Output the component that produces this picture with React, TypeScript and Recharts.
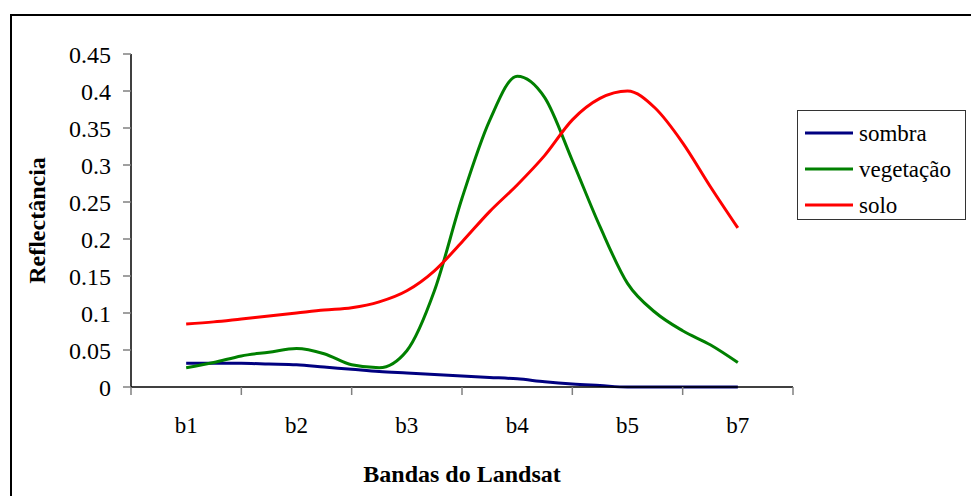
import React from 'react';
import { LineChart, Line, XAxis, YAxis, Legend } from 'recharts';

const categories = ['b1', 'b2', 'b3', 'b4', 'b5', 'b7'];
// positions along the band axis (band units; 0.5 = centre of b1)
const positions = [0.5, 0.75, 1, 1.25, 1.5, 1.75, 2, 2.25, 2.5, 2.75, 3, 3.25, 3.5, 3.75, 4, 4.25, 4.5, 4.75, 5, 5.25, 5.5];
const sombra = [0.032, 0.032, 0.032, 0.031, 0.030, 0.027, 0.024, 0.021, 0.019, 0.017, 0.015, 0.013, 0.011, 0.007, 0.004, 0.002, 0.0, 0.0, 0.0, 0.0, 0.0];
const vegetacao = [0.026, 0.033, 0.042, 0.047, 0.052, 0.045, 0.030, 0.026, 0.049, 0.130, 0.255, 0.360, 0.420, 0.391, 0.306, 0.217, 0.140, 0.101, 0.076, 0.057, 0.033];
const solo = [0.085, 0.088, 0.092, 0.096, 0.100, 0.104, 0.107, 0.115, 0.130, 0.157, 0.196, 0.237, 0.273, 0.313, 0.361, 0.390, 0.400, 0.377, 0.330, 0.271, 0.215];
const yTicks = [0, 0.05, 0.1, 0.15, 0.2, 0.25, 0.3, 0.35, 0.4, 0.45];
const boundaryTicks = [0, 1, 2, 3, 4, 5, 6];
const labelTicks = [0.5, 1.5, 2.5, 3.5, 4.5, 5.5];
const seriesKeys = ['sombra', 'vegetacao', 'solo'];
const seriesNames = ['sombra', 'vegetação', 'solo'];
const seriesColors = ['#000080', '#008000', '#ff0000'];

const data = positions.map((p, i) => ({
  pos: p,
  sombra: sombra[i],
  vegetacao: vegetacao[i],
  solo: solo[i],
}));

const FONT = '"Liberation Serif", "Times New Roman", serif';

const renderLegend = () => {
  return (
    <div
      style={{
        boxSizing: 'border-box',
        width: 169,
        height: 110,
        border: '1px solid #333',
        background: '#fff',
        padding: '4px 0 0 7px',
        fontFamily: FONT,
        fontSize: 23,
        color: '#000',
      }}
    >
      {seriesNames.map((name, i) => (
        <div key={name} style={{ display: 'flex', alignItems: 'center', height: 36 }}>
          <svg width={48} height={6} style={{ display: 'block' }}>
            <line x1={0} y1={3} x2={48} y2={3} stroke={seriesColors[i]} strokeWidth={3} />
          </svg>
          <span style={{ marginLeft: 6, lineHeight: '23px' }}>{name}</span>
        </div>
      ))}
    </div>
  );
};

const YTitle = (props: any) => {
  const vb = props.viewBox || { x: 0, y: 0, width: 0, height: 0 };
  const x = vb.x + 45;
  const y = vb.y + vb.height / 2;
  return (
    <text
      x={x}
      y={y}
      transform={`rotate(-90 ${x} ${y})`}
      textAnchor="middle"
      fontFamily={FONT}
      fontWeight="bold"
      fontSize={24}
      fill="#000"
    >
      Reflectância
    </text>
  );
};

const EmptyTick = () => <g />;

export default function App() {
  return (
    <div style={{ position: 'absolute', left: 0, top: 0, width: 971, height: 496, overflow: 'hidden', background: '#fff' }}>
      <div
        style={{
          position: 'absolute',
          left: 10,
          top: 14,
          width: 980,
          height: 500,
          borderTop: '2px solid #000',
          borderLeft: '2px solid #000',
        }}
      />
      <div style={{ position: 'absolute', left: 0, top: 0 }}>
        <LineChart width={971} height={496} data={data} margin={{ top: 54, right: 178, bottom: 0, left: 0 }}>
          <XAxis
            xAxisId="b_labels"
            dataKey="pos"
            type="number"
            domain={[0, 6]}
            ticks={labelTicks}
            tickFormatter={(v: number) => categories[Math.floor(v)]}
            tick={{ fontFamily: FONT, fontSize: 23, fill: '#000' }}
            tickLine={false}
            axisLine={false}
            tickSize={0}
            tickMargin={29}
            height={108}
            allowDataOverflow
            label={{
              value: 'Bandas do Landsat',
              position: 'insideBottom',
              offset: 14,
              fontFamily: FONT,
              fontWeight: 'bold',
              fontSize: 24,
              fill: '#000',
            }}
          />
          <XAxis
            xAxisId="a_marks"
            dataKey="pos"
            type="number"
            domain={[0, 6]}
            ticks={boundaryTicks}
            tick={<EmptyTick />}
            tickSize={8}
            tickLine={{ stroke: '#808080', strokeWidth: 1.5 }}
            axisLine={{ stroke: '#000', strokeWidth: 1.5 }}
            height={1}
            allowDataOverflow
          />
          <YAxis
            type="number"
            domain={[0, 0.45]}
            ticks={yTicks}
            width={131}
            tickFormatter={(v: number) => String(Number(v.toFixed(2)))}
            tick={{ fontFamily: FONT, fontSize: 24, fill: '#000' }}
            tickSize={8}
            tickMargin={12}
            tickLine={{ stroke: '#808080', strokeWidth: 1.5 }}
            axisLine={{ stroke: '#000', strokeWidth: 1.5 }}
            label={<YTitle />}
          />
          <Legend
            layout="vertical"
            align="center"
            verticalAlign="middle"
            content={renderLegend}
            wrapperStyle={{ left: 797, top: 110, width: 169, height: 110 }}
          />
          {seriesKeys.map((k, i) => (
            <Line
              key={k}
              xAxisId="b_labels"
              type="monotone"
              dataKey={k}
              name={seriesNames[i]}
              stroke={seriesColors[i]}
              strokeWidth={3}
              dot={false}
              activeDot={false}
              isAnimationActive={false}
            />
          ))}
        </LineChart>
      </div>
    </div>
  );
}
